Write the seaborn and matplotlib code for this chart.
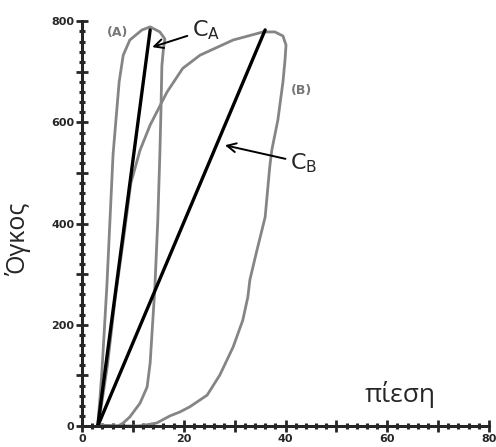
import matplotlib
matplotlib.use("Agg")
import matplotlib.pyplot as plt
import seaborn as sns
import pandas as pd
from matplotlib.ticker import MultipleLocator, FuncFormatter

# Loop A (pressure, volume)
loopA_x = [3.1, 3.5, 3.9, 4.9, 6.1, 7.3, 8.1, 9.4, 11.8, 13.4, 15.3, 16.3, 16.0,
           15.7, 15.5, 15.3, 14.9, 14.3, 13.8, 13.4, 12.8, 11.4, 9.4, 8.1, 7.1, 3.1]
loopA_y = [2, 51, 105, 279, 536, 680, 733, 763, 783, 789, 779, 765, 745,
           712, 615, 536, 407, 269, 190, 125, 77, 45, 18, 6, 0, 2]

# Loop B (pressure, volume)
loopB_x = [11.4, 14.7, 17.3, 19.3, 21.2, 24.6, 27.1, 29.7, 31.6, 32.6, 33.0, 34.4, 36.0,
           36.9, 37.3, 38.5, 39.5, 39.9, 40.1, 39.5, 37.9, 35.6, 29.7, 23.2, 19.8,
           16.7, 13.4, 11.4, 9.6, 8.3, 6.5, 5.0, 3.5, 3.1, 11.4]
loopB_y = [0, 6, 20, 28, 38, 61, 101, 156, 209, 255, 289, 348, 413,
           512, 545, 605, 680, 723, 753, 771, 779, 779, 763, 733, 707,
           660, 595, 545, 480, 380, 250, 120, 20, 0, 0]

# Chord lines C_A and C_B
CA_x = [3.1, 13.4]
CA_y = [0, 783]
CB_x = [3.1, 36.0]
CB_y = [0, 783]

sns.set_style("ticks")
plt.rcParams['font.family'] = ['DejaVu Sans']

fig = plt.figure(figsize=(4.96, 4.47), dpi=100)
ax = fig.add_axes([82/496, 21/447, (489-82)/496, (426-21.3)/447])

dfA = pd.DataFrame({"p": loopA_x, "v": loopA_y})
dfB = pd.DataFrame({"p": loopB_x, "v": loopB_y})
dfCA = pd.DataFrame({"p": CA_x, "v": CA_y})
dfCB = pd.DataFrame({"p": CB_x, "v": CB_y})

grey = "#858585"
kw = dict(x="p", y="v", sort=False, estimator=None, ax=ax)
sns.lineplot(data=dfA, color=grey, lw=2.0, **kw)
sns.lineplot(data=dfB, color=grey, lw=2.0, **kw)
sns.lineplot(data=dfCA, color="black", lw=2.4, **kw)
sns.lineplot(data=dfCB, color="black", lw=2.4, **kw)

ax.set_xlim(0, 80)
ax.set_ylim(0, 800)
sns.despine(ax=ax)
for s in ["left", "bottom"]:
    ax.spines[s].set_linewidth(2.2)

ax.xaxis.set_major_locator(MultipleLocator(10))
ax.xaxis.set_minor_locator(MultipleLocator(2))
ax.yaxis.set_major_locator(MultipleLocator(100))
ax.yaxis.set_minor_locator(MultipleLocator(20))
ax.xaxis.set_major_formatter(FuncFormatter(lambda v, p: f"{int(v)}" if int(round(v)) % 20 == 0 else ""))
ax.yaxis.set_major_formatter(FuncFormatter(lambda v, p: f"{int(v)}" if int(round(v)) % 200 == 0 else ""))
ax.tick_params(which="major", direction="inout", length=9, width=2, labelsize=8, pad=1)
ax.tick_params(which="minor", direction="inout", length=5, width=2.2)
for lab in ax.get_xticklabels() + ax.get_yticklabels():
    lab.set_fontweight("bold")

ax.set_xlabel("")
ax.set_ylabel("")
fig.text(18/496, 1 - 238/447, "Όγκος", rotation=90, ha="center", va="center",
         fontsize=18, family="Open Sans")
ax.text(62.5, 62, "πίεση", ha="center", va="center", fontsize=19, family="Open Sans")

ax.text(6.9, 777, "(A)", ha="center", va="center", fontsize=9, fontweight="bold", color="#777777")
ax.text(43.2, 664, "(B)", ha="center", va="center", fontsize=9, fontweight="bold", color="#777777")

ax.annotate(r"$\mathrm{C_A}$", xy=(13.8, 749), xytext=(21.6, 783), ha="left", va="center",
            fontsize=16, arrowprops=dict(arrowstyle="->", color="black", lw=1.4,
                                         shrinkA=1, shrinkB=0, mutation_scale=16))
ax.annotate(r"$\mathrm{C_B}$", xy=(28.1, 555), xytext=(40.9, 520), ha="left", va="center",
            fontsize=16, arrowprops=dict(arrowstyle="->", color="black", lw=1.4,
                                         shrinkA=1, shrinkB=0, mutation_scale=16))

fig.savefig("out.png", dpi=100)
